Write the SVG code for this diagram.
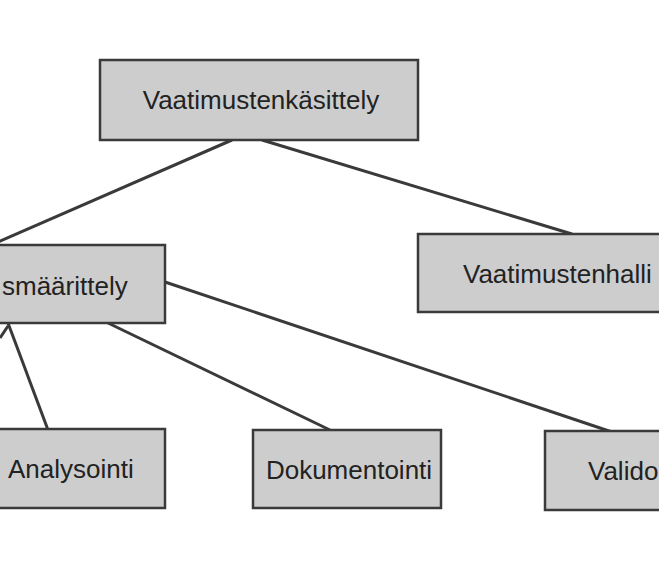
<svg xmlns="http://www.w3.org/2000/svg" width="659" height="564" viewBox="0 0 659 564">
<style>
.b{fill:#cdcdcd;stroke:#3a3a3a;stroke-width:2.5}
.t{font-family:"Liberation Sans",Arial,sans-serif;font-size:26px;fill:#222}
.c{stroke:#3a3a3a;stroke-width:3;fill:none}
</style>
<rect width="659" height="564" fill="#fff"/>
<g id="connectors">
<line class="c" x1="232" y1="140" x2="-2" y2="242"/>
<line class="c" x1="262" y1="140" x2="572" y2="234"/>
<line class="c" x1="8" y1="323" x2="48" y2="430"/>
<line class="c" x1="0" y1="338" x2="8" y2="326"/>
<line class="c" x1="108" y1="323" x2="330" y2="430"/>
<line class="c" x1="165" y1="282" x2="612" y2="432"/>
</g>
<g id="n-top"><rect class="b" x="100" y="60" width="318" height="80"/><text class="t" x="261" y="109" text-anchor="middle">Vaatimustenkäsittely</text></g>
<g id="n-maarittely"><rect class="b" x="-10" y="245" width="175" height="78"/><text class="t" x="2" y="295">smäärittely</text></g>
<g id="n-hallinta"><rect class="b" x="418" y="234" width="250" height="78"/><text class="t" x="463" y="283">Vaatimustenhalli</text></g>
<g id="n-analysointi"><rect class="b" x="-10" y="429" width="175" height="79"/><text class="t" x="8" y="478">Analysointi</text></g>
<g id="n-dokumentointi"><rect class="b" x="253" y="430" width="188" height="78"/><text class="t" x="349" y="479" text-anchor="middle">Dokumentointi</text></g>
<g id="n-validointi"><rect class="b" x="545" y="431" width="125" height="79"/><text class="t" x="588" y="480">Valido</text></g>
</svg>
